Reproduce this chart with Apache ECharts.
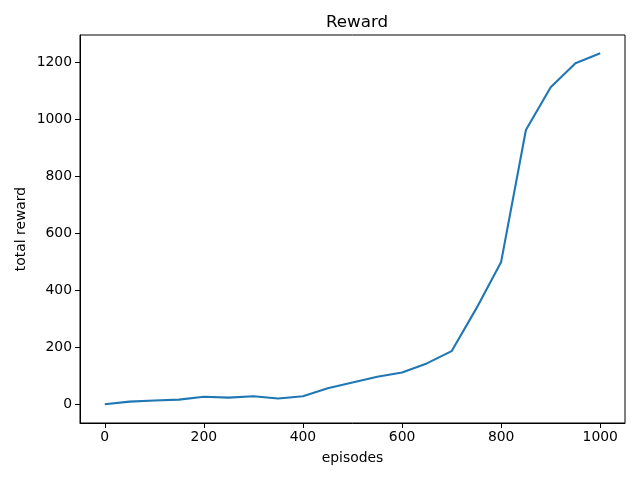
<!DOCTYPE html>
<html>
<head>
<meta charset="utf-8">
<script src="https://cdn.jsdelivr.net/npm/echarts@6/dist/echarts.min.js"></script>
<style>
html, body { margin: 0; padding: 0; background: #fff; }
#chart { width: 640px; height: 480px; }
</style>
</head>
<body>
<div id="chart"></div>
<script>
// episodes / total reward
var episodes = [0, 50, 100, 150, 200, 250, 300, 350, 400, 450, 500,
                550, 600, 650, 700, 750, 800, 850, 900, 950, 1000];
var rewards = [0, 9, 13, 16, 26, 23, 28, 20, 28, 56, 76,
               96, 111, 143, 186, 336, 499, 962, 1112, 1196, 1231];
var xTicks = [0, 200, 400, 600, 800, 1000];
var yTicks = [0, 200, 400, 600, 800, 1000, 1200];

var font = 'DejaVu Sans';
var chart = echarts.init(document.getElementById('chart'));

var points = episodes.map(function (e, i) { return [e, rewards[i]]; });
var plain = function (v) { return String(v); };

chart.setOption({
	animation: false,
	backgroundColor: '#fff',
	title: {
		text: 'Reward',
		left: 321,
		top: 9,
		textStyle: { fontFamily: font, fontSize: 16.7, fontWeight: 'normal', color: '#000' }
	},
	grid: {
		left: 80, right: 15, top: 35, bottom: 57,
		outerBoundsMode: 'none',
		show: true, borderColor: '#000', borderWidth: 1
	},
	xAxis: {
		type: 'value',
		min: -50, max: 1050,
		name: 'episodes',
		nameLocation: 'middle',
		nameGap: 28,
		nameTextStyle: { fontFamily: font, fontSize: 13.9, color: '#000' },
		axisLine: { show: true, onZero: false, lineStyle: { color: '#000', width: 1 } },
		axisTick: { show: true, length: 5, lineStyle: { color: '#000' }, customValues: xTicks },
		axisLabel: { fontFamily: font, fontSize: 13.9, color: '#000', margin: 7, customValues: xTicks, formatter: plain },
		splitLine: { show: false }
	},
	yAxis: {
		type: 'value',
		min: -66, max: 1295,
		name: 'total reward',
		nameLocation: 'middle',
		nameGap: 52,
		nameMoveOverlap: false,
		nameTextStyle: { fontFamily: font, fontSize: 13.9, color: '#000' },
		axisLine: { show: true, onZero: false, lineStyle: { color: '#000', width: 1 } },
		axisTick: { show: true, length: 5, lineStyle: { color: '#000' }, customValues: yTicks },
		axisLabel: { fontFamily: font, fontSize: 13.9, color: '#000', margin: 8, customValues: yTicks, formatter: plain },
		splitLine: { show: false }
	},
	series: [{
		type: 'line',
		data: points,
		showSymbol: false,
		lineStyle: { color: '#1f77b4', width: 2.1 },
		itemStyle: { color: '#1f77b4' }
	}]
});
</script>
</body>
</html>
